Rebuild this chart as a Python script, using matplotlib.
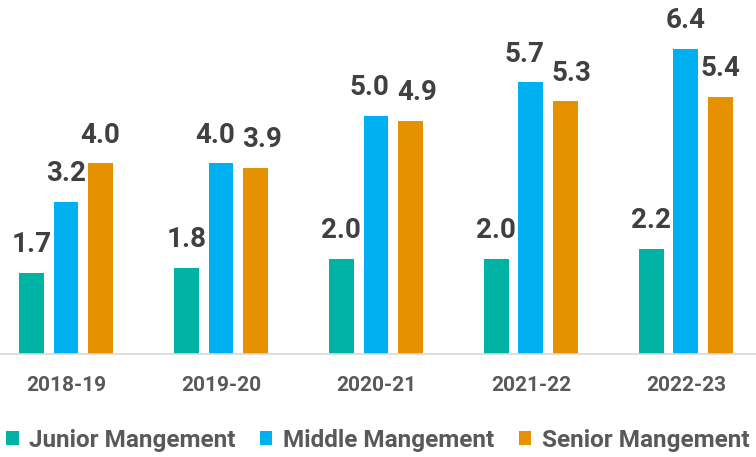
import numpy as np
import matplotlib
matplotlib.use("Agg")
import matplotlib.pyplot as plt

plt.rcParams['font.family'] = ['Roboto', 'DejaVu Sans']

years = ["2018-19", "2019-20", "2020-21", "2021-22", "2022-23"]
junior = [1.7, 1.8, 2.0, 2.0, 2.2]
middle = [3.2, 4.0, 5.0, 5.7, 6.4]
senior = [4.0, 3.9, 4.9, 5.3, 5.4]

series = [
    ("Junior Mangement", junior, "#00B2A4"),
    ("Middle Mangement", middle, "#00B0F0"),
    ("Senior Mangement", senior, "#E59100"),
]

DPI = 100
fig = plt.figure(figsize=(7.56, 4.57), dpi=DPI)
ax = fig.add_axes([0, 0.2254, 1, 0.7746])

x = np.arange(len(years))
bar_w = 0.161
step = 0.223
labels = [[] for _ in years]  # value labels per category, left to right
for i, (name, vals, color) in enumerate(series):
    pos = x + (i - 1) * step
    bars = ax.bar(pos, vals, width=bar_w, color=color, label=name)
    for k, (b, v) in enumerate(zip(bars, vals)):
        ann = ax.annotate(f"{v:.1f}", (b.get_x() + b.get_width() / 2, v),
                          xytext=(0, 15), textcoords="offset points",
                          ha="center", va="baseline", fontsize=20,
                          fontweight="bold", color="#404040")
        labels[k].append(ann)

ax.set_xlim(-0.426, 4.452)
ax.set_ylim(0, 7.43)
ax.set_yticks([])
ax.set_xticks(x)
ax.set_xticklabels(years, fontsize=15, fontweight="bold", color="#595959")
ax.tick_params(axis="x", length=0, pad=16)
for side in ["top", "right", "left"]:
    ax.spines[side].set_visible(False)
ax.spines["bottom"].set_color("#D9D9D9")
ax.spines["bottom"].set_linewidth(1.2)

# push neighbouring value labels apart sideways when they collide
fig.canvas.draw()
renderer = fig.canvas.get_renderer()
min_gap = 7  # px
for group in labels:
    for left, right in zip(group[:-1], group[1:]):
        a = left.get_window_extent(renderer)
        b = right.get_window_extent(renderer)
        if a.y1 < b.y0 or b.y1 < a.y0:
            continue
        overlap = a.x1 + min_gap - b.x0
        if overlap > 0:
            shift = overlap / 2 * 72 / DPI
            left.xyann = (left.xyann[0] - shift, left.xyann[1])
            right.xyann = (right.xyann[0] + shift, right.xyann[1])

leg = fig.legend(loc="center", bbox_to_anchor=(0.5, 1 - 440 / 457), ncol=3,
                 frameon=False, handlelength=0.5, handleheight=0.5,
                 handletextpad=0.45, columnspacing=1.0,
                 prop={"size": 17.5, "weight": "bold"})
for t in leg.get_texts():
    t.set_color("#595959")

fig.savefig("out.png", dpi=DPI)
